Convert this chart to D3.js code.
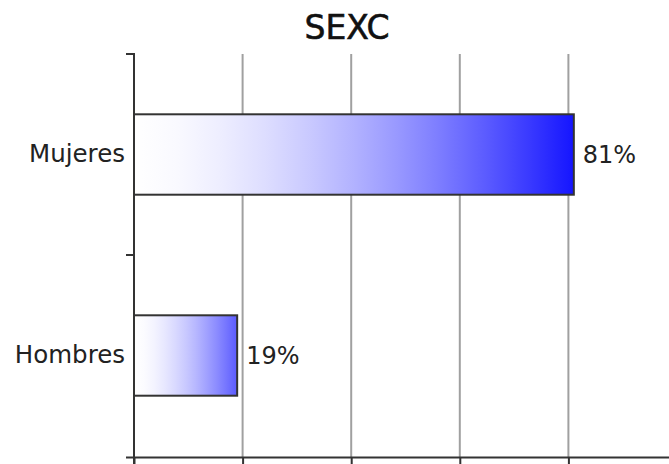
<!DOCTYPE html>
<html>
<head>
<meta charset="utf-8">
<script src="https://cdn.jsdelivr.net/npm/d3@7/dist/d3.min.js"></script>
<style>
  html, body { margin: 0; padding: 0; background: #fff; }
  svg { display: block; font-family: "DejaVu Sans", sans-serif; }
</style>
</head>
<body>
<svg id="chart" width="669" height="464"></svg>
<script>
const title = "SEXC";
const categories = ["Mujeres", "Hombres"];
const values = [81, 19];
const valueLabels = ["81%", "19%"];
const xTicks = [0, 20, 40, 60, 80, 100];

(function () {
const svg = d3.select("#chart");
const W = 669, H = 464;
const pLeft = 134, pTop = 54, pBottom = 457.5, pRight = 677;

const x = d3.scaleLinear().domain([0, 100]).range([pLeft, pRight]);
const y = d3.scaleBand().domain(categories).range([pTop, 456])
  .paddingInner(0.6).paddingOuter(0.3);

// gradients per bar
const defs = svg.append("defs");
const endColor = v => d3.interpolateRgb("#7070ff", "#0000ff")(v / 100);
categories.forEach((c, i) => {
  const g = defs.append("linearGradient").attr("id", "grad" + i)
    .attr("x1", "0%").attr("x2", "100%").attr("y1", "0%").attr("y2", "0%");
  const ec = endColor(values[i]);
  d3.range(0, 1.0001, 0.1).forEach(t => {
    g.append("stop").attr("offset", (t * 100) + "%")
      .attr("stop-color", d3.interpolateRgb("#ffffff", ec)(Math.pow(t, 1.6)));
  });
});

// gridlines
svg.append("g").selectAll("line").data(xTicks.filter(d => d > 0))
  .join("line")
  .attr("x1", d => x(d)).attr("x2", d => x(d))
  .attr("y1", pTop).attr("y2", pBottom)
  .attr("stroke", "#a0a0a0").attr("stroke-width", 2);

// bars
svg.append("g").selectAll("rect").data(categories).join("rect")
  .attr("x", x(0))
  .attr("y", d => y(d))
  .attr("width", (d, i) => x(values[i]) - x(0))
  .attr("height", y.bandwidth())
  .attr("fill", (d, i) => `url(#grad${i})`)
  .attr("stroke", "#333").attr("stroke-width", 2);

// value labels
svg.append("g").selectAll("text").data(categories).join("text")
  .attr("x", (d, i) => x(values[i]) + 9)
  .attr("y", d => y(d) + y.bandwidth() / 2)
  .attr("dy", "0.37em")
  .attr("font-size", 24)
  .attr("fill", "#222")
  .text((d, i) => valueLabels[i]);

// x axis
const xAxis = d3.axisBottom(x).tickValues(xTicks).tickSize(8).tickSizeOuter(0).tickFormat("");
const gx = svg.append("g").attr("transform", `translate(0,${pBottom})`).call(xAxis);
gx.select(".domain").attr("stroke", "#333").attr("stroke-width", 2)
  .attr("d", `M${pLeft - 8},0H${W + 10}`);
gx.selectAll(".tick line").attr("stroke", "#333").attr("stroke-width", 2);

// y axis
const yAxis = d3.axisLeft(y).tickSize(0).tickPadding(9);
const gy = svg.append("g").attr("transform", `translate(${pLeft},0)`).call(yAxis);
gy.select(".domain").attr("stroke", "#333").attr("stroke-width", 2)
  .attr("d", `M-8,${pTop}H0V${H + 5}`);
gy.selectAll(".tick text").attr("font-size", 24.5).attr("fill", "#222")
  .attr("font-family", "DejaVu Sans, sans-serif");
// category boundary ticks
const bounds = [pTop, (y(categories[0]) + y.bandwidth() + y(categories[1])) / 2];
gy.selectAll(".btick").data(bounds).join("line").attr("class", "btick")
  .attr("x1", -8).attr("x2", 0).attr("y1", d => d).attr("y2", d => d)
  .attr("stroke", "#333").attr("stroke-width", 2);

// title
svg.append("text").attr("x", 347).attr("y", 39)
  .attr("text-anchor", "middle").attr("font-size", 33).attr("fill", "#111")
  .attr("stroke", "#111").attr("stroke-width", 0.6)
  .text(title);
})();
</script>
</body>
</html>
